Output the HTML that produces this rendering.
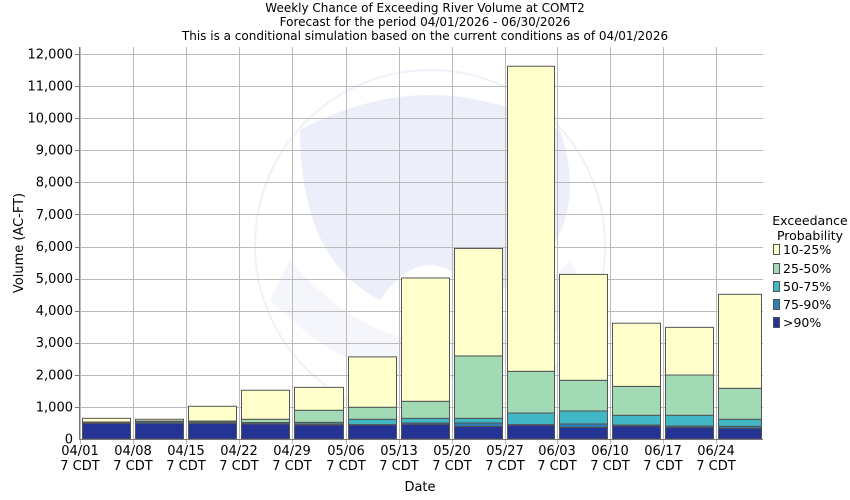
<!DOCTYPE html>
<html><head><meta charset="utf-8"><style>
body{margin:0;background:#fff}
svg{display:block;font-family:"DejaVu Sans","Liberation Sans",sans-serif}
</style></head><body>
<svg id="s" width="850" height="500" xmlns="http://www.w3.org/2000/svg">
<rect width="850" height="500" fill="#fff"/>
<g font-size="12" text-anchor="middle" fill="#000">
<text x="425" y="12">Weekly Chance of Exceeding River Volume at COMT2</text>
<text x="425" y="26">Forecast for the period 04/01/2026 - 06/30/2026</text>
<text x="425" y="40">This is a conditional simulation based on the current conditions as of 04/01/2026</text>
</g>
<!-- watermark -->
<g opacity="0.09">
<circle cx="430" cy="245" r="175" fill="none" stroke="#5a6fd0" stroke-width="2"/>
<path d="M300 130 Q430 60 560 130 Q600 250 480 300 Q430 230 380 300 Q300 260 300 130Z" fill="#3a56c8"/>
<path d="M290 260 Q430 420 570 260 L590 300 Q430 460 270 300Z" fill="#9aa8e8"/>
</g>
<g id="grid" stroke="#bbb" stroke-width="1"></g>
<g id="bars"></g>
<line x1="79.5" y1="47" x2="79.5" y2="439.5" stroke="#777"/>
<line x1="79.5" y1="439.5" x2="763" y2="439.5" stroke="#777"/>
<g font-size="13" text-anchor="end" fill="#000">
<text x="73" y="443.5">0</text>
<text x="73" y="411.5">1,000</text>
<text x="73" y="379.5">2,000</text>
<text x="73" y="347">3,000</text>
<text x="73" y="315">4,000</text>
<text x="73" y="283">5,000</text>
<text x="73" y="251">6,000</text>
<text x="73" y="219">7,000</text>
<text x="73" y="186.5">8,000</text>
<text x="73" y="154.5">9,000</text>
<text x="73" y="122.5">10,000</text>
<text x="73" y="90.5">11,000</text>
<text x="73" y="58.5">12,000</text>
</g>
<g font-size="13" text-anchor="middle" fill="#000">
<text x="80" y="455">04/01</text><text x="80" y="470">7 CDT</text>
<text x="133" y="455">04/08</text><text x="133" y="470">7 CDT</text>
<text x="186" y="455">04/15</text><text x="186" y="470">7 CDT</text>
<text x="239" y="455">04/22</text><text x="239" y="470">7 CDT</text>
<text x="292" y="455">04/29</text><text x="292" y="470">7 CDT</text>
<text x="346" y="455">05/06</text><text x="346" y="470">7 CDT</text>
<text x="399" y="455">05/13</text><text x="399" y="470">7 CDT</text>
<text x="452" y="455">05/20</text><text x="452" y="470">7 CDT</text>
<text x="505" y="455">05/27</text><text x="505" y="470">7 CDT</text>
<text x="557" y="455">06/03</text><text x="557" y="470">7 CDT</text>
<text x="610" y="455">06/10</text><text x="610" y="470">7 CDT</text>
<text x="663" y="455">06/17</text><text x="663" y="470">7 CDT</text>
<text x="716" y="455">06/24</text><text x="716" y="470">7 CDT</text>
<text x="420" y="491">Date</text>
<text transform="translate(23,243) rotate(-90)">Volume (AC-FT)</text>
</g>
<g font-size="12.5" fill="#000">
<text x="810" y="225" text-anchor="middle">Exceedance</text>
<text x="810" y="240" text-anchor="middle">Probability</text>
<rect x="773.5" y="244.5" width="6" height="10" fill="#ffffcc" stroke="#555"/><text x="783" y="254">10-25%</text>
<rect x="773.5" y="263.5" width="6" height="10" fill="#a1dab4" stroke="#555"/><text x="783" y="273">25-50%</text>
<rect x="773.5" y="281.5" width="6" height="10" fill="#41b6c4" stroke="#555"/><text x="783" y="291">50-75%</text>
<rect x="773.5" y="299.5" width="6" height="10" fill="#2c7fb8" stroke="#555"/><text x="783" y="309">75-90%</text>
<rect x="773.5" y="317.5" width="6" height="10" fill="#253494" stroke="#555"/><text x="783" y="327">&gt;90%</text>
</g>
<script>
(function(){
var ns="http://www.w3.org/2000/svg";
function Y(v){return 439-v*0.03208;}
var g=document.getElementById("grid");
for(var i=1;i<=12;i++){var l=document.createElementNS(ns,"line");var y=Math.round(Y(i*1000))+0.5;l.setAttribute("x1",80);l.setAttribute("x2",763);l.setAttribute("y1",y);l.setAttribute("y2",y);g.appendChild(l);
var t=document.createElementNS(ns,"line");t.setAttribute("x1",75);t.setAttribute("x2",80);t.setAttribute("y1",y);t.setAttribute("y2",y);t.setAttribute("stroke","#777");g.appendChild(t);}
var ticks=[80,133,186,239,292,346,399,452,505,557,610,663,716];
ticks.forEach(function(x){var l=document.createElementNS(ns,"line");l.setAttribute("x1",x+0.5);l.setAttribute("x2",x+0.5);l.setAttribute("y1",47);l.setAttribute("y2",444);g.appendChild(l);});
var d=[[490,520,525,530,645],[490,540,550,560,615],[490,500,540,560,1020],[470,510,515,615,1520],[440,470,520,895,1610],[440,450,615,990,2560],[460,500,645,1175,5020],[395,500,645,2590,5940],[435,450,810,2110,11620],[365,470,875,1830,5130],[405,435,740,1640,3610],[365,405,740,1995,3480],[335,395,615,1580,4510]];
var c=["#253494","#2c7fb8","#41b6c4","#a1dab4","#ffffcc"];
var b=document.getElementById("bars");
d.forEach(function(v,i){var x0=ticks[i]+2,x1=(i<12?ticks[i+1]:764)-2;var prev=0;
for(var k=0;k<5;k++){var y1=Y(prev),y2=Y(v[k]);var r=document.createElementNS(ns,"rect");r.setAttribute("x",x0+0.5);r.setAttribute("width",x1-x0-1);r.setAttribute("y",y2);r.setAttribute("height",Math.max(0,y1-y2));r.setAttribute("fill",c[k]);r.setAttribute("stroke","#555");r.setAttribute("stroke-width","1");b.appendChild(r);prev=v[k];}});
})();
</script>
</svg>
</body></html>
